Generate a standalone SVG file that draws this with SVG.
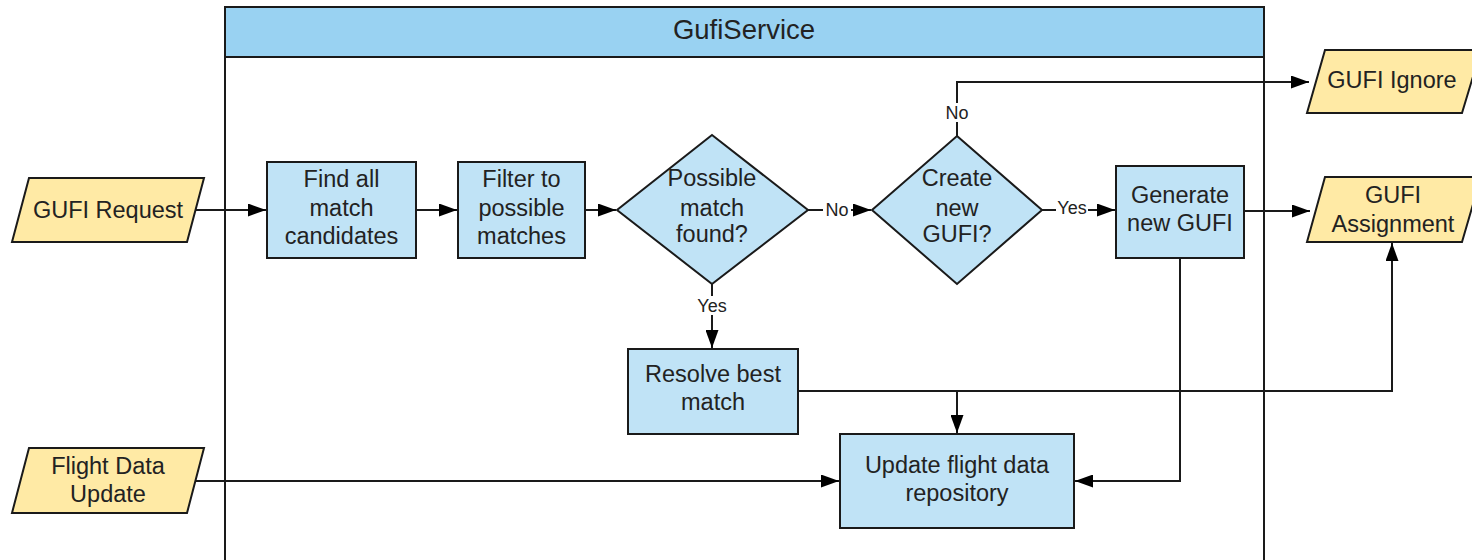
<svg xmlns="http://www.w3.org/2000/svg" width="1472" height="560" viewBox="0 0 1472 560">
<style>
  text { font-family: "Liberation Sans", Arial, sans-serif; fill: #222; text-anchor: middle; }
  .t { font-size: 23.5px; }
  .title { font-size: 27.5px; }
  .lbl { font-size: 18px; }
  .box { fill: #c0e3f6; stroke: #1a1a1a; stroke-width: 2; }
  .io { fill: #ffeaa5; stroke: #1a1a1a; stroke-width: 2; }
  .edge { fill: none; stroke: #1a1a1a; stroke-width: 2; }
  .lblbg { fill: #ffffff; }
</style>
<defs>
  <marker id="arr" markerWidth="18" markerHeight="13" refX="18" refY="6.5" orient="auto" markerUnits="userSpaceOnUse">
    <path d="M0,0 L18,6.5 L0,13 Z" fill="#000"/>
  </marker>
</defs>
<rect width="1472" height="560" fill="#ffffff"/>

<g id="container">
  <rect x="225" y="7" width="1039" height="570" fill="#ffffff" stroke="#1a1a1a" stroke-width="2"/>
  <rect x="225" y="7" width="1039" height="50" fill="#99d2f2" stroke="#1a1a1a" stroke-width="2"/>
  <text class="title" x="744" y="39">GufiService</text>
</g>

<g id="connectors">
  <path class="edge" d="M196,210 L266,210" marker-end="url(#arr)"/>
  <path class="edge" d="M416,210 L457,210" marker-end="url(#arr)"/>
  <path class="edge" d="M585,210 L616,210" marker-end="url(#arr)"/>
  <path class="edge" d="M808,210 L871,210" marker-end="url(#arr)"/>
  <path class="edge" d="M1042,210 L1115,210" marker-end="url(#arr)"/>
  <path class="edge" d="M712,284 L712,348" marker-end="url(#arr)"/>
  <path class="edge" d="M957,136 L957,82 L1309,82" marker-end="url(#arr)"/>
  <path class="edge" d="M1244,211 L1310,211" marker-end="url(#arr)"/>
  <path class="edge" d="M798,391 L1392,391 L1392,243" marker-end="url(#arr)"/>
  <path class="edge" d="M957,391 L957,433" marker-end="url(#arr)"/>
  <path class="edge" d="M1180,258 L1180,481 L1075,481" marker-end="url(#arr)"/>
  <path class="edge" d="M196,481 L839,481" marker-end="url(#arr)"/>
  <rect class="lblbg" x="823" y="200" width="28" height="19"/>
  <text class="lbl" x="837" y="216">No</text>
  <rect class="lblbg" x="1056" y="199" width="32" height="19"/>
  <text class="lbl" x="1072" y="214">Yes</text>
  <rect class="lblbg" x="696" y="296" width="32" height="19"/>
  <text class="lbl" x="712" y="312">Yes</text>
  <rect class="lblbg" x="943" y="103" width="28" height="19"/>
  <text class="lbl" x="957" y="119">No</text>
</g>

<g id="gufi-request">
  <polygon class="io" points="29,178 204,178 187,242 12,242"/>
  <text class="t" x="108" y="218">GUFI Request</text>
</g>

<g id="flight-data-update">
  <polygon class="io" points="29,448 204,448 187,513 12,513"/>
  <text class="t" x="108" y="474">Flight Data</text>
  <text class="t" x="108" y="502">Update</text>
</g>

<g id="find-all">
  <rect class="box" x="267" y="162" width="149" height="96"/>
  <text class="t" x="341.5" y="187">Find all</text>
  <text class="t" x="341.5" y="216">match</text>
  <text class="t" x="341.5" y="244">candidates</text>
</g>

<g id="filter">
  <rect class="box" x="458" y="162" width="127" height="96"/>
  <text class="t" x="521.5" y="187">Filter to</text>
  <text class="t" x="521.5" y="216">possible</text>
  <text class="t" x="521.5" y="244">matches</text>
</g>

<g id="possible-match">
  <polygon class="box" points="712,135 808,210 712,284 617,210"/>
  <text class="t" x="712" y="186">Possible</text>
  <text class="t" x="712" y="216">match</text>
  <text class="t" x="712" y="242">found?</text>
</g>

<g id="create-new">
  <polygon class="box" points="957,136 1042,210 957,284 872,210"/>
  <text class="t" x="957" y="186">Create</text>
  <text class="t" x="957" y="216">new</text>
  <text class="t" x="957" y="242">GUFI?</text>
</g>

<g id="generate">
  <rect class="box" x="1116" y="166" width="128" height="92"/>
  <text class="t" x="1180" y="203">Generate</text>
  <text class="t" x="1180" y="231">new GUFI</text>
</g>

<g id="gufi-ignore">
  <polygon class="io" points="1325,50 1481,50 1462,113 1307,113"/>
  <text class="t" x="1392" y="88">GUFI Ignore</text>
</g>

<g id="gufi-assignment">
  <polygon class="io" points="1325,177 1481,177 1462,242 1307,242"/>
  <text class="t" x="1393" y="203">GUFI</text>
  <text class="t" x="1393" y="232">Assignment</text>
</g>

<g id="resolve">
  <rect class="box" x="628" y="349" width="170" height="85"/>
  <text class="t" x="713" y="382">Resolve best</text>
  <text class="t" x="713" y="410">match</text>
</g>

<g id="update-repo">
  <rect class="box" x="840" y="434" width="234" height="94"/>
  <text class="t" x="957" y="473">Update flight data</text>
  <text class="t" x="957" y="501">repository</text>
</g>
</svg>
